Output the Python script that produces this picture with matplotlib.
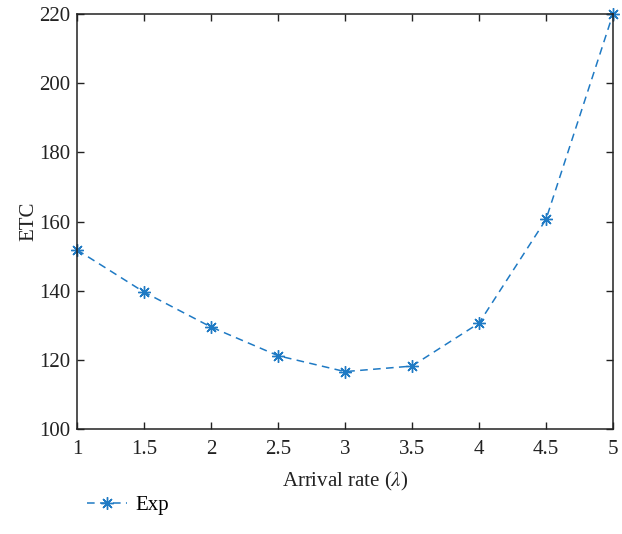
import numpy as np
import matplotlib
matplotlib.use("Agg")
import matplotlib.pyplot as plt

plt.rcParams['font.family'] = ['Liberation Serif', 'DejaVu Serif']
plt.rcParams['mathtext.fontset'] = 'stix'

# data
arrival = [1, 1.5, 2, 2.5, 3, 3.5, 4, 4.5, 5]
etc = [151.8, 139.6, 129.5, 121.2, 116.6, 118.2, 130.6, 160.6, 220]
xticks = [1, 1.5, 2, 2.5, 3, 3.5, 4, 4.5, 5]
xticklabels = ['1', '1.5', '2', '2.5', '3', '3.5', '4', '4.5', '5']
yticks = [100, 120, 140, 160, 180, 200, 220]

col = '#1f7ac4'

fig = plt.figure(figsize=(6.22, 5.34), dpi=100)
ax = fig.add_axes([0.1238, 0.1966, 0.8617, 0.7772])

ax.plot(arrival, etc, linestyle='--', color=col, linewidth=1.1,
        marker=(8, 2, 0), markersize=9, markeredgewidth=1.0,
        dashes=(5, 3.5), label='Exp', clip_on=False)

ax.set_xlim(1, 5)
ax.set_ylim(100, 220)
ax.set_xticks(xticks)
ax.set_xticklabels(xticklabels)
ax.set_yticks(yticks)
ax.tick_params(direction='in', top=True, right=True, length=5, width=1,
               labelsize=15, colors='#222222')
ax.tick_params(axis='x', pad=8)
ax.tick_params(axis='y', pad=5)
for s in ax.spines.values():
    s.set_color('#222222')
    s.set_linewidth(1.1)

ax.set_xlabel(r'Arrival rate ($\lambda$)', fontsize=15, color='#222222', labelpad=8)
ax.set_ylabel('ETC', fontsize=15, color='#222222', labelpad=0)

leg = fig.legend(loc='lower left', bbox_to_anchor=(0.11, 0.0), frameon=False,
                 fontsize=15, handlelength=1.9, handletextpad=0.4)

fig.savefig('out.png', dpi=100)
